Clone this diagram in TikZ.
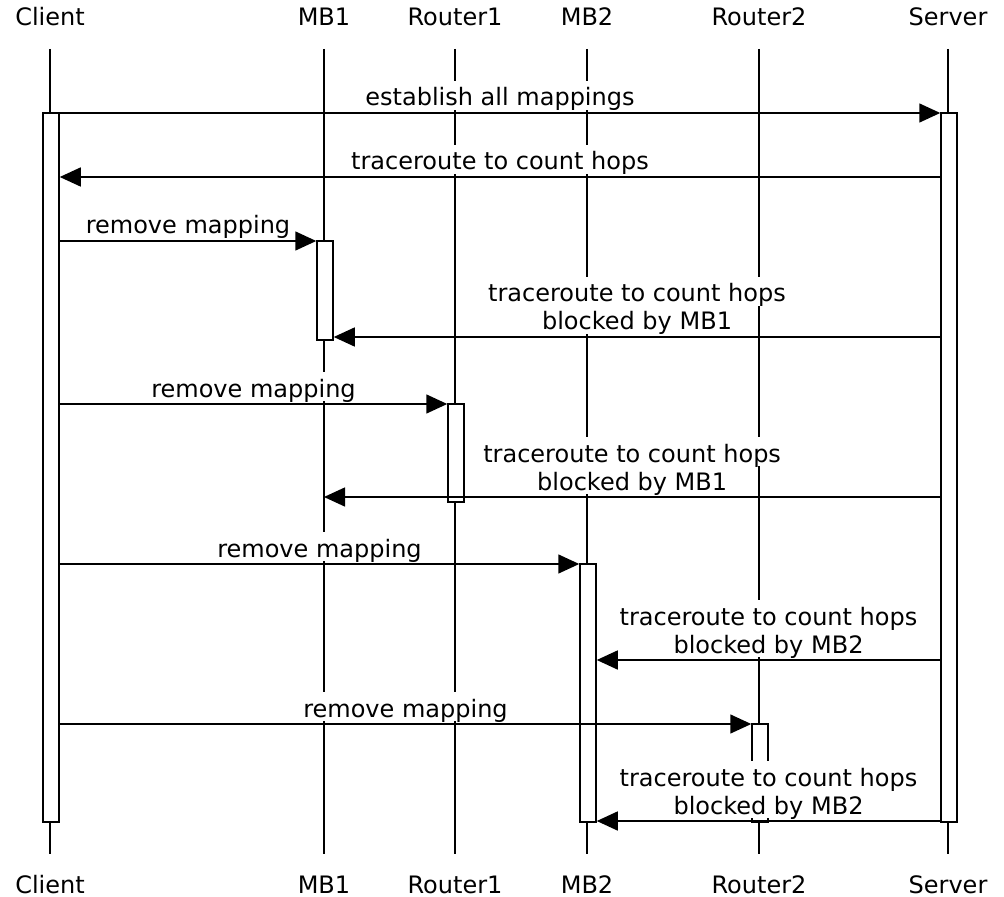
\documentclass[tikz,border=0pt]{standalone}
\usepackage{fontspec}
\setmainfont{DejaVu Sans}
\usetikzlibrary{arrows.meta,calc}
\begin{document}
\begin{tikzpicture}[x=0.5pt,y=-0.5pt,
  every node/.style={font=\fontsize{12pt}{14pt}\selectfont},
  head/.style={anchor=base, inner sep=0pt},
  life/.style={line width=0.75pt},
  act/.style={draw, fill=white, line width=0.75pt, minimum width=8pt, inner sep=0pt},
  lbl/.style={anchor=base, fill=white, inner xsep=1pt, inner ysep=0pt, text height=12.5pt, text depth=2pt},
  msg/.style={line width=0.75pt, -{Triangle[length=10.5pt,width=9.5pt]}}
]
\useasboundingbox (0,0) rectangle (1004,897);

% entity names, top and bottom
\node[head] (hC)  at (50,26)  {Client};
\node[head] (hM1) at (324,26) {MB1};
\node[head] (hR1) at (455,26) {Router1};
\node[head] (hM2) at (587,26) {MB2};
\node[head] (hR2) at (759,26) {Router2};
\node[head] (hS)  at (948,26) {Server};
\node[head] (fC)  at (50,893)  {Client};
\node[head] (fM1) at (324,893) {MB1};
\node[head] (fR1) at (455,893) {Router1};
\node[head] (fM2) at (587,893) {MB2};
\node[head] (fR2) at (759,893) {Router2};
\node[head] (fS)  at (948,893) {Server};

% lifelines
\coordinate (top) at (0,49);
\coordinate (bot) at (0,854);
\foreach \a/\b in {hC/fC,hM1/fM1,hR1/fR1,hM2/fM2,hR2/fR2,hS/fS}
  \draw[life] (\a |- top) -- (\b |- bot);

% activation boxes
\node[act, minimum height=354.5pt] (aC)  at (51,467.5) {};
\node[act, minimum height=354.5pt] (aS)  at (949,467.5) {};
\node[act, minimum height=49.5pt]  (aM1) at (325,290.5) {};
\node[act, minimum height=49pt]    (aR1) at (456,453) {};
\node[act, minimum height=129pt]   (aM2) at (588,693) {};
\node[act, minimum height=49pt]    (aR2) at (760,773) {};

% message rows
\coordinate (y1) at (0,113);
\coordinate (y2) at (0,177);
\coordinate (y3) at (0,241);
\coordinate (y4) at (0,337);
\coordinate (y5) at (0,404);
\coordinate (y6) at (0,497);
\coordinate (y7) at (0,564);
\coordinate (y8) at (0,660);
\coordinate (y9) at (0,724);
\coordinate (y10) at (0,821);

% message labels
\path ($(aC.east |- y1)!0.5!(aS.west |- y1)$) ++(0,-7) node[lbl] (l1) {establish all mappings};
\path ($(aC.east |- y2)!0.5!(aS.west |- y2)$) ++(0,-7) node[lbl] (l2) {traceroute to count hops};
\path ($(aC.east |- y3)!0.5!(aM1.west |- y3)$) ++(0,-7) node[lbl] (l3) {remove mapping};
\path ($(aS.west |- y4)!0.5!(aM1.east |- y4)$) ++(0,-7) node[lbl] (l4b) {blocked by MB1}
      ++(0,-28) node[lbl] (l4a) {traceroute to count hops};
\path ($(aC.east |- y5)!0.5!(aR1.west |- y5)$) ++(0,-7) node[lbl] (l5) {remove mapping};
\path ($(aS.west |- y6)!0.5!(hM1 |- y6)$) ++(0,-7) node[lbl] (l6b) {blocked by MB1}
      ++(0,-28) node[lbl] (l6a) {traceroute to count hops};
\path ($(aC.east |- y7)!0.5!(aM2.west |- y7)$) ++(0,-7) node[lbl] (l7) {remove mapping};
\path ($(aS.west |- y8)!0.5!(aM2.east |- y8)$) ++(0,-7) node[lbl] (l8b) {blocked by MB2}
      ++(0,-28) node[lbl] (l8a) {traceroute to count hops};
\path ($(aC.east |- y9)!0.5!(aR2.west |- y9)$) ++(0,-7) node[lbl] (l9) {remove mapping};
\path ($(aS.west |- y10)!0.5!(aM2.east |- y10)$) ++(0,-7) node[lbl] (l10b) {blocked by MB2}
      ++(0,-28) node[lbl] (l10a) {traceroute to count hops};

% messages
\draw[msg] (aC.east |- y1) -- (aS.west |- y1);
\draw[msg] (aS.west |- y2) -- (aC.east |- y2);
\draw[msg] (aC.east |- y3) -- (aM1.west |- y3);
\draw[msg] (aS.west |- y4) -- (aM1.east |- y4);
\draw[msg] (aC.east |- y5) -- (aR1.west |- y5);
\draw[msg] (aS.west |- y6) -- (hM1 |- y6);
\draw[msg] (aC.east |- y7) -- (aM2.west |- y7);
\draw[msg] (aS.west |- y8) -- (aM2.east |- y8);
\draw[msg] (aC.east |- y9) -- (aR2.west |- y9);
\draw[msg] (aS.west |- y10) -- (aM2.east |- y10);
\end{tikzpicture}
\end{document}
